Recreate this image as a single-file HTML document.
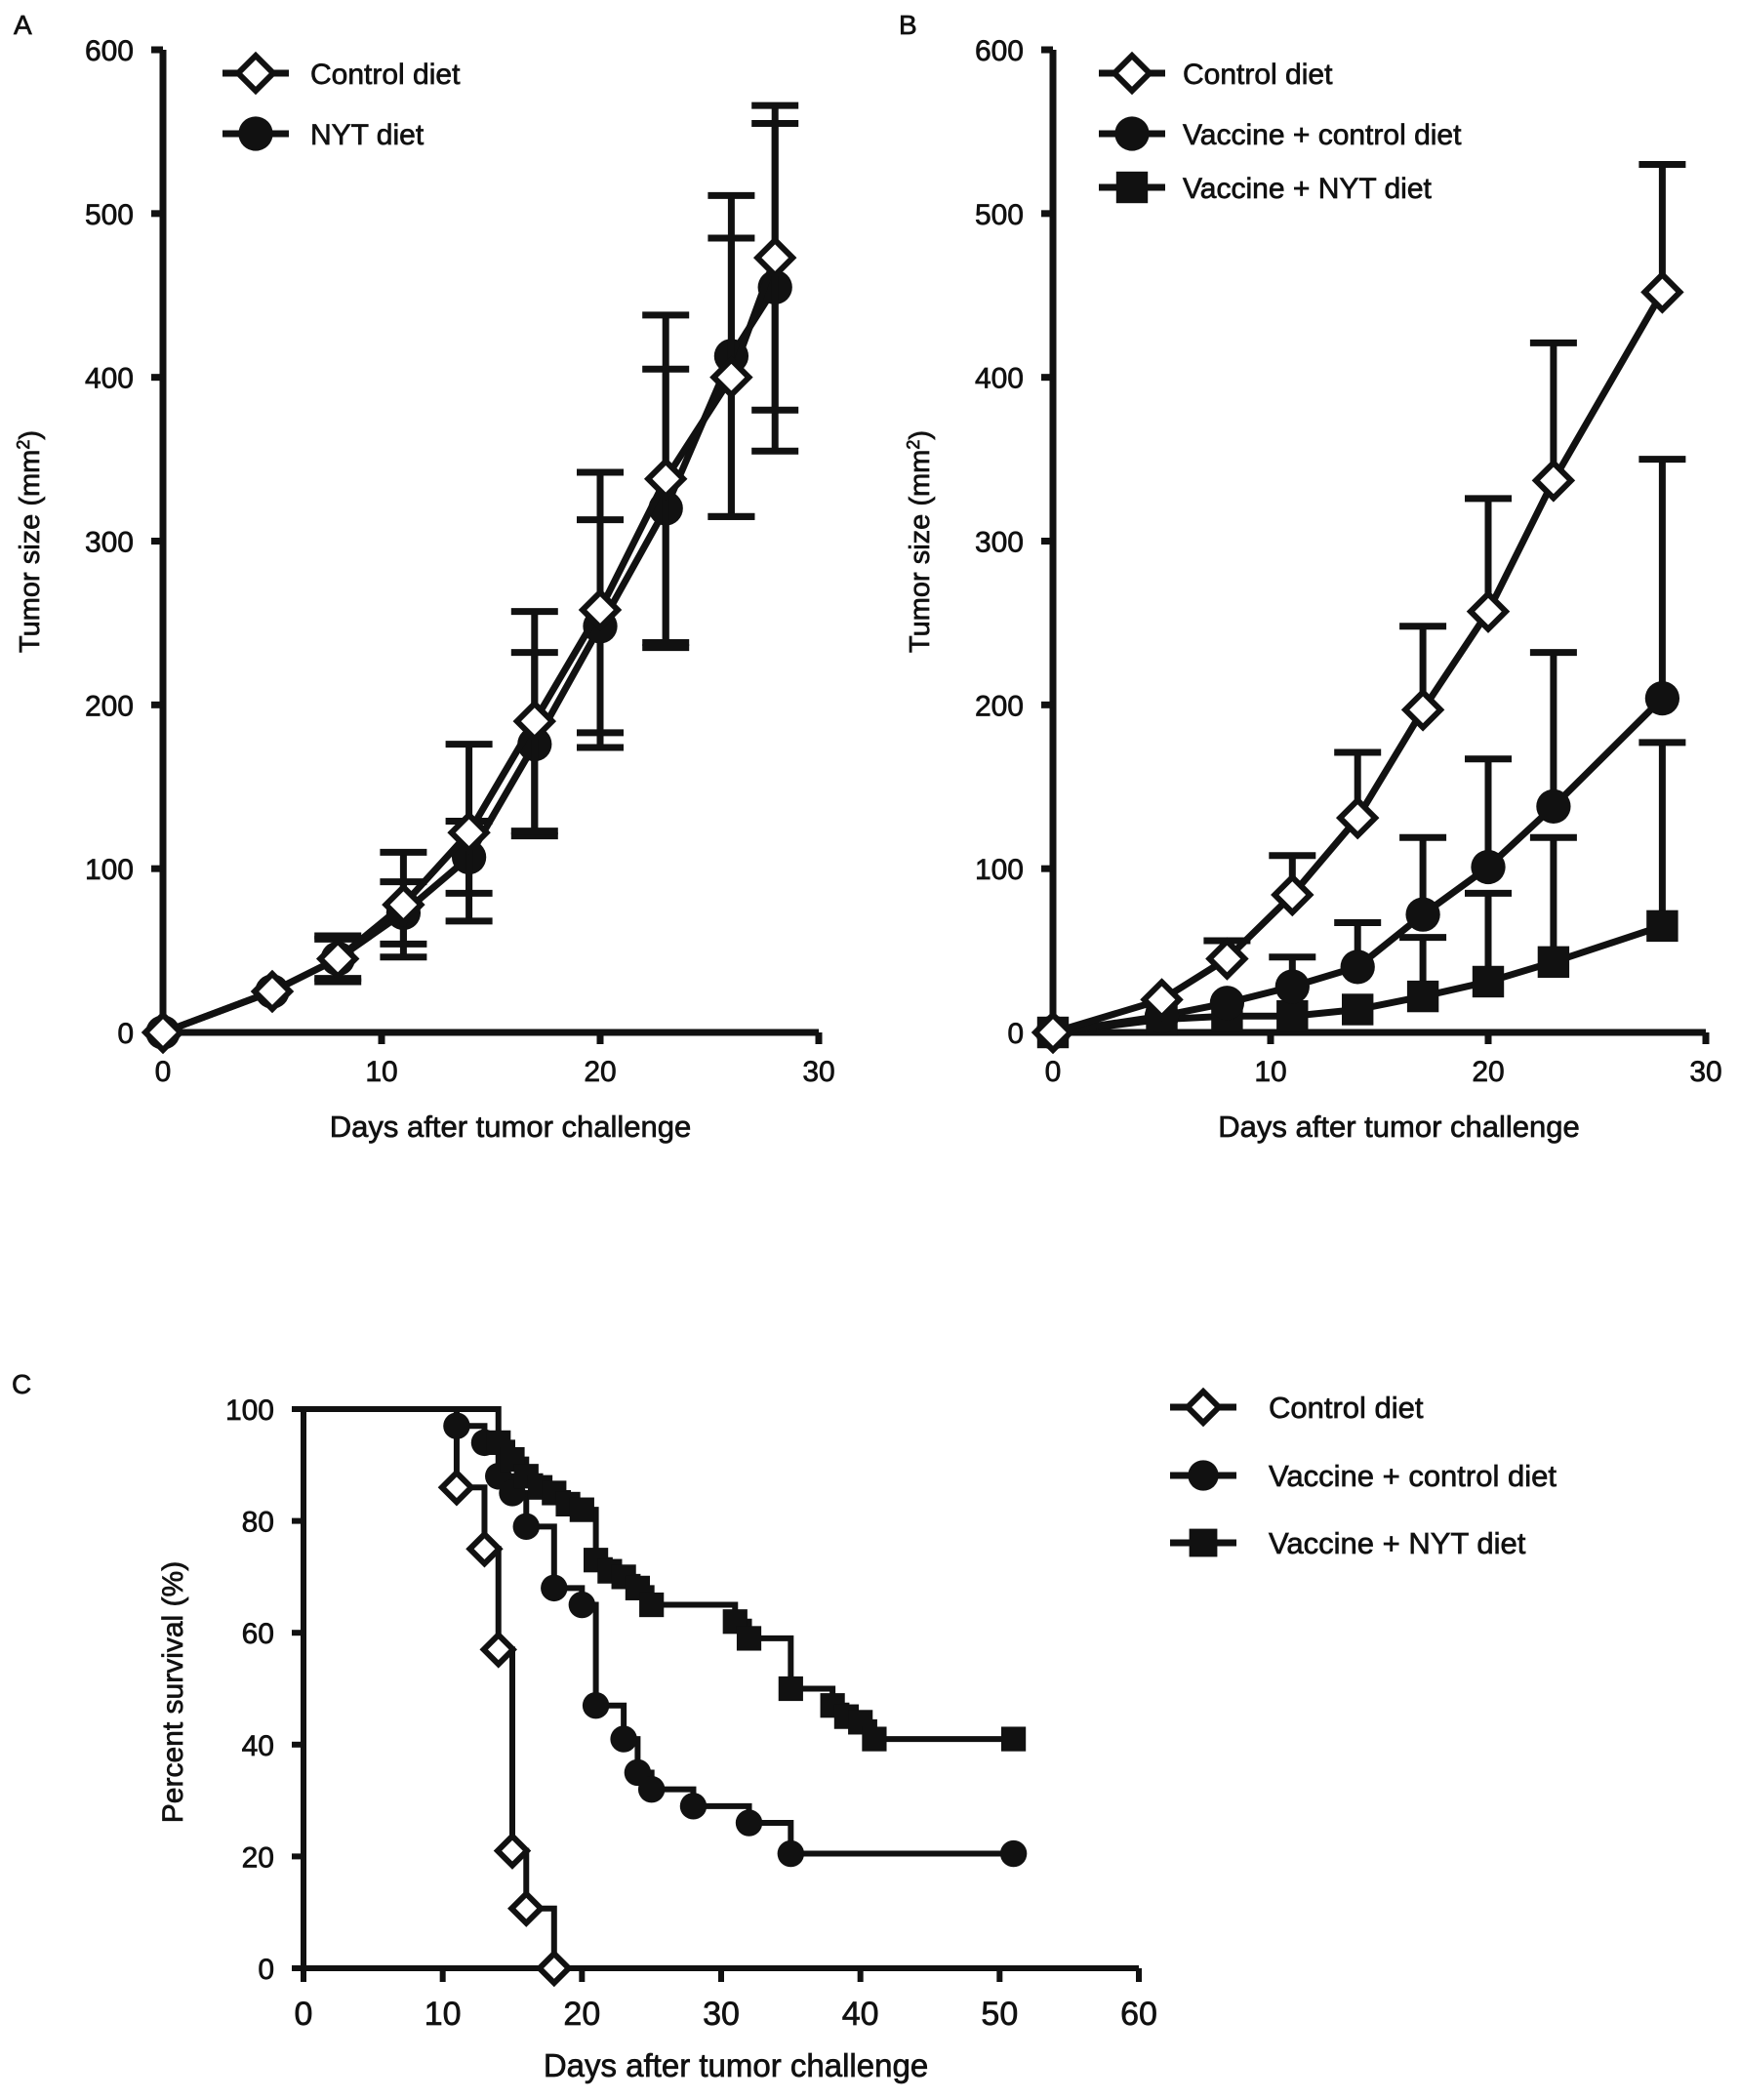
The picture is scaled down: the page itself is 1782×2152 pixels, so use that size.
<!DOCTYPE html>
<html><head><meta charset="utf-8"><style>
html,body{margin:0;padding:0;background:#fff;}
svg{display:block;font-family:"Liberation Sans",sans-serif;}
text{stroke:#111;stroke-width:0.7px;}
</style></head><body>
<svg id="fig" width="1782" height="2152" viewBox="0 0 1782 2152" xmlns="http://www.w3.org/2000/svg">
<g id="pa"></g>
<g id="pb"></g>
<g id="pc"></g>
</svg>
<script>
// Panel A data
const aDays = [0,5,8,11,14,17,20,23,26,28];
const aControl = [0,25,45,78,122,190,258,338,400,473];
const aControlErr = [0,0,14,32,54,67,84,100,85,93];
const aNYT = [0,25,45,73,107,176,248,320,413,455];
const aNYTErr = [0,0,12,19,22,56,65,85,98,100];
// Panel B data
const bDays = [0,5,8,11,14,17,20,23,28];
const bControl = [0,20,45,84,131,197,257,337,452];
const bControlErr = [0,0,11,24,40,51,69,84,78];
const bVacCtrl = [0,10,18,28,40,72,101,138,204];
const bVacCtrlErr = [0,0,0,18,27,47,66,94,146];
const bVacNYT = [0,8,10,10,14,22,31,43,65];
const bVacNYTErr = [0,0,0,0,0,36,54,76,112];
const yTicksAB = [0,100,200,300,400,500,600];
const xTicksAB = [0,10,20,30];
// Panel C data (Kaplan-Meier)
const cCtrlT = [11,13,14,15,16,18];
const cCtrlS = [86,75,57,21,10.7,0];
const cVacCtrlT = [11,13,14,15,16,18,20,21,23,24,25,28,32,35,51];
const cVacCtrlS = [97,94,88,85,79,68,65,47,41,35,32,29,26,20.5,20.5];
const cVacNYTT = [14,15,16,17,18,19,20,21,22,23,24,25,31,32,35,38,39,40,41,51];
const cVacNYTS = [94,91,88,86,85,83,82,73,71,70,68,65,62,59,50,47,45,44,41,41];
const yTicksC = [0,20,40,60,80,100];
const xTicksC = [0,10,20,30,40,50,60];

const NS="http://www.w3.org/2000/svg";
const SW=7;
function mk(parent,tag,attrs,text){const e=document.createElementNS(NS,tag);for(const k in attrs)e.setAttribute(k,attrs[k]);if(text!==undefined)e.textContent=text;parent.appendChild(e);return e;}
function lin(d0,d1,r0,r1){return v=>r0+(v-d0)*(r1-r0)/(d1-d0);}

function marker(g,type,x,y,s){
  let e;
  if(type==='diamond'){
    e=mk(g,'polygon',{points:`${x},${y-s} ${x+s},${y} ${x},${y+s} ${x-s},${y}`,fill:'#fff',stroke:'#111','stroke-width':6});
  }else if(type==='circle'){
    e=mk(g,'circle',{cx:x,cy:y,r:s*0.98,fill:'#111'});
  }else{
    e=mk(g,'rect',{x:x-s*0.9,y:y-s*0.9,width:s*1.8,height:s*1.8,fill:'#111'});
  }
  
  
  return e;
}

function axesAB(g,X,Y,x0,x1,y0,y1,labelX,title){
  const ax=mk(g,'line',{x1:x0,y1:y0+3,x2:x0,y2:y1,stroke:'#111','stroke-width':SW});
  
  const bx=mk(g,'line',{x1:x0-3,y1:y0,x2:x1,y2:y0,stroke:'#111','stroke-width':SW});
  
  yTicksAB.forEach(v=>{
    const t=mk(g,'line',{x1:x0-12,y1:Y(v),x2:x0,y2:Y(v),stroke:'#111','stroke-width':SW});
    
    const l=mk(g,'text',{x:x0-30,y:Y(v)+11,'text-anchor':'end','font-size':30,fill:'#111'},v);
    
  });
  xTicksAB.forEach(v=>{
    const t=mk(g,'line',{x1:X(v),y1:y0,x2:X(v),y2:y0+12,stroke:'#111','stroke-width':SW});
    
    const l=mk(g,'text',{x:X(v),y:y0+50,'text-anchor':'middle','font-size':30,fill:'#111'},v);
    
  });
  const xt=mk(g,'text',{x:(x0+x1)/2+20,y:1165,'text-anchor':'middle','font-size':31,fill:'#111'},'Days after tumor challenge');
  
  const yt=mk(g,'text',{x:0,y:0,'text-anchor':'middle','font-size':29,fill:'#111',transform:`translate(${labelX},555) rotate(-90)`});
  
  yt.innerHTML='Tumor size (mm<tspan dy="-10" font-size="18">2</tspan><tspan dy="10">)</tspan>';
  const pl=mk(g,'text',{x:title[1],y:35,'font-size':28,fill:'#111'},title[0]);
  
}

function series(g,X,Y,days,vals,errs,type,both,name){
  const sg=mk(g,'g',{});
  
  days.forEach((d,i)=>{
    if(errs[i]>0){
      const top=Y(vals[i]+errs[i]),bot=both?Y(vals[i]-errs[i]):Y(vals[i]);
      const e=mk(sg,'line',{x1:X(d),y1:top,x2:X(d),y2:bot,stroke:'#111','stroke-width':SW});
      
      const c=mk(sg,'line',{x1:X(d)-24,y1:top,x2:X(d)+24,y2:top,stroke:'#111','stroke-width':SW});
      
      if(both){const c2=mk(sg,'line',{x1:X(d)-24,y1:bot,x2:X(d)+24,y2:bot,stroke:'#111','stroke-width':SW});
      }
    }
  });
  const p=mk(sg,'polyline',{points:days.map((d,i)=>X(d)+','+Y(vals[i])).join(' '),fill:'none',stroke:'#111','stroke-width':SW});
  
  days.forEach((d,i)=>marker(sg,type,X(d),Y(vals[i]),18));
}

function legendItem(g,x,y,tx,type,text,s,fs){
  const lg=mk(g,'g',{});
  
  mk(lg,'line',{x1:x-34,y1:y,x2:x+34,y2:y,stroke:'#111','stroke-width':SW});
  marker(lg,type,x,y,s);
  const t=mk(lg,'text',{x:tx,y:y+11,'font-size':fs,fill:'#111'},text);
  
}

// Panel A
(function(){
  const g=document.getElementById('pa');
  const X=lin(0,30,167,839),Y=lin(0,600,1058,51);
  axesAB(g,X,Y,167,839,1058,51,40,['A',14]);
  series(g,X,Y,aDays,aNYT,aNYTErr,'circle',true,'series-nyt-diet');
  series(g,X,Y,aDays,aControl,aControlErr,'diamond',true,'series-control-diet');
  legendItem(g,262,75,318,'diamond','Control diet',18,30);
  legendItem(g,262,137,318,'circle','NYT diet',18,30);
})();
// Panel B
(function(){
  const g=document.getElementById('pb');
  const X=lin(0,30,1079,1748),Y=lin(0,600,1058,51);
  axesAB(g,X,Y,1079,1748,1058,51,952,['B',921]);
  series(g,X,Y,bDays,bVacNYT,bVacNYTErr,'square',false,'series-vaccine-nyt');
  series(g,X,Y,bDays,bVacCtrl,bVacCtrlErr,'circle',false,'series-vaccine-control');
  series(g,X,Y,bDays,bControl,bControlErr,'diamond',false,'series-control-diet');
  legendItem(g,1160,75,1212,'diamond','Control diet',18,30);
  legendItem(g,1160,137,1212,'circle','Vaccine + control diet',18,30);
  legendItem(g,1160,192,1212,'square','Vaccine + NYT diet',18,30);
})();
// Panel C
(function(){
  const g=document.getElementById('pc');
  const x0=311,x1=1167,y0=2017,y1=1444;
  const X=lin(0,60,x0,x1),Y=lin(0,100,y0,y1);
  const F='"Liberation Sans Narrow","Liberation Sans",sans-serif';
  const ax=mk(g,'line',{x1:x0,y1:y0+3,x2:x0,y2:y1,stroke:'#111','stroke-width':6});
  
  const bx=mk(g,'line',{x1:x0-3,y1:y0,x2:x1,y2:y0,stroke:'#111','stroke-width':6});
  
  yTicksC.forEach(v=>{
    const t=mk(g,'line',{x1:x0-12,y1:Y(v),x2:x0,y2:Y(v),stroke:'#111','stroke-width':6});
    
    const l=mk(g,'text',{x:x0-30,y:Y(v)+11,'text-anchor':'end','font-size':30,fill:'#111','font-family':F},v);
    
  });
  xTicksC.forEach(v=>{
    const t=mk(g,'line',{x1:X(v),y1:y0,x2:X(v),y2:y0+14,stroke:'#111','stroke-width':6});
    
    const l=mk(g,'text',{x:X(v),y:y0+58,'text-anchor':'middle','font-size':34,fill:'#111','font-family':F},v);
    
  });
  const xt=mk(g,'text',{x:754,y:2128,'text-anchor':'middle','font-size':33,fill:'#111','font-family':F},'Days after tumor challenge');
  
  const yt=mk(g,'text',{x:0,y:0,'text-anchor':'middle','font-size':30,fill:'#111',transform:'translate(187,1734) rotate(-90)'},'Percent survival (%)');
  
  const pl=mk(g,'text',{x:12,y:1428,'font-size':28,fill:'#111'},'C');
  
  function km(T,S,type,name){
    const sg=mk(g,'g',{});
    
    let pts=[[X(0),Y(100)]],prev=100;
    T.forEach((t,i)=>{pts.push([X(t),Y(prev)]);pts.push([X(t),Y(S[i])]);prev=S[i];});
    const p=mk(sg,'polyline',{points:pts.map(p=>p.join(',')).join(' '),fill:'none',stroke:'#111','stroke-width':6});
    
    T.forEach((t,i)=>marker(sg,type,X(t),Y(S[i]),type==='diamond'?15:14));
  }
  km(cCtrlT,cCtrlS,'diamond','series-control-diet');
  km(cVacCtrlT,cVacCtrlS,'circle','series-vaccine-control');
  km(cVacNYTT,cVacNYTS,'square','series-vaccine-nyt');
  legendItem(g,1233,1442,1300,'diamond','Control diet',16,31);
  legendItem(g,1233,1512,1300,'circle','Vaccine + control diet',16,31);
  legendItem(g,1233,1581,1300,'square','Vaccine + NYT diet',16,31);
})();
</script>
</body></html>
